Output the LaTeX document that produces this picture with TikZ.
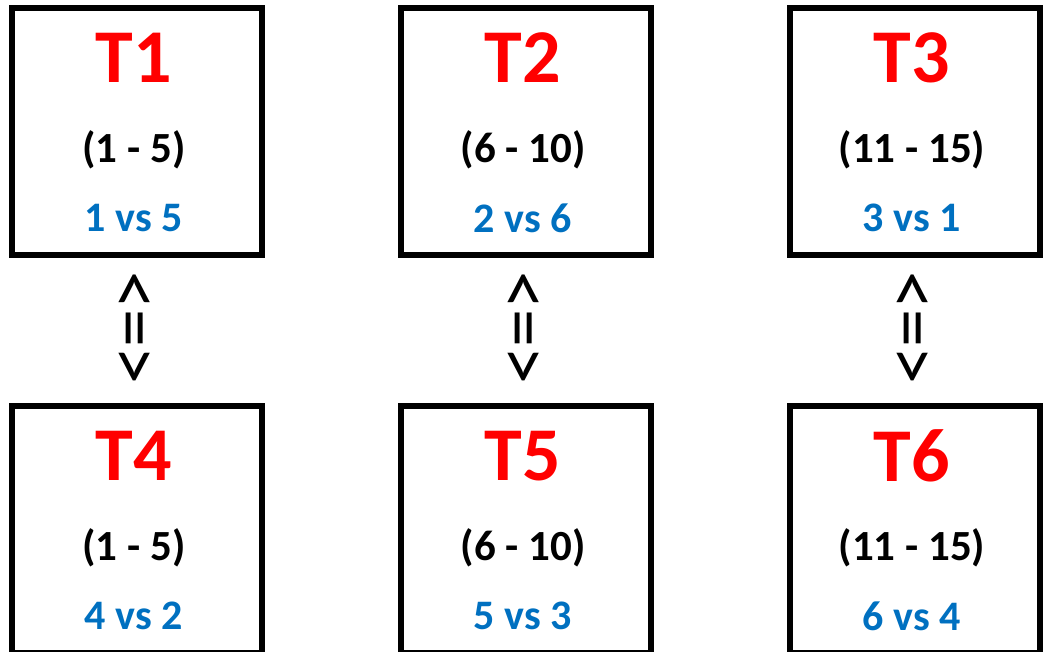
\documentclass[tikz,border=0pt]{standalone}
\usepackage{fontspec}
\setmainfont{Carlito}
\definecolor{tred}{RGB}{255,0,0}
\definecolor{tblue}{RGB}{0,112,192}
\begin{document}
\begin{tikzpicture}[x=1pt,y=-1pt,
  tbox/.style={draw=black,line width=6pt,minimum width=250pt,minimum height=247pt,inner sep=0pt,anchor=north west},
  ttltext/.style={text=tred,font=\fontsize{76}{76}\selectfont\bfseries,inner sep=0pt},
  rngtext/.style={text=black,font=\fontsize{43}{43}\selectfont\bfseries,inner sep=0pt},
  mtchtext/.style={text=tblue,font=\fontsize{42}{42}\selectfont\bfseries,inner sep=0pt},
  eqarrow/.style={rotate=-90,font=\fontsize{76}{76}\selectfont,inner sep=0pt}]
\useasboundingbox (0,0) rectangle (1045,652);
% boxes
\node[tbox] (b1) at (9,5) {};
\node[tbox] (b2) at (398,5) {};
\node[tbox] (b3) at (787,5) {};
\node[tbox] (b4) at (9,403) {};
\node[tbox] (b5) at (398,403) {};
\node[tbox] (b6) at (787,403) {};
% texts top row
\node[ttltext] (t1) at (134,58) {T1};
\node[rngtext] (r1) at (134,150) {(1 - 5)};
\node[mtchtext] (m1) at (134,218) {1 vs 5};
\node[ttltext] (t2) at (523,58) {T2};
\node[rngtext] (r2) at (523,150) {(6 - 10)};
\node[mtchtext] (m2) at (523,218) {2 vs 6};
\node[ttltext] (t3) at (912,58) {T3};
\node[rngtext] (r3) at (912,150) {(11 - 15)};
\node[mtchtext] (m3) at (912,218) {3 vs 1};
% texts bottom row
\node[ttltext] (t4) at (134,456) {T4};
\node[rngtext] (r4) at (134,548) {(1 - 5)};
\node[mtchtext] (m4) at (134,616) {4 vs 2};
\node[ttltext] (t5) at (523,456) {T5};
\node[rngtext] (r5) at (523,548) {(6 - 10)};
\node[mtchtext] (m5) at (523,616) {5 vs 3};
\node[ttltext] (t6) at (912,456) {T6};
\node[rngtext] (r6) at (912,548) {(11 - 15)};
\node[mtchtext] (m6) at (912,616) {6 vs 4};
% equivalence arrows
\node[eqarrow] (a1) at (130,328) {<=>};
\node[eqarrow] (a2) at (519,328) {<=>};
\node[eqarrow] (a3) at (908,328) {<=>};
\end{tikzpicture}
\end{document}
